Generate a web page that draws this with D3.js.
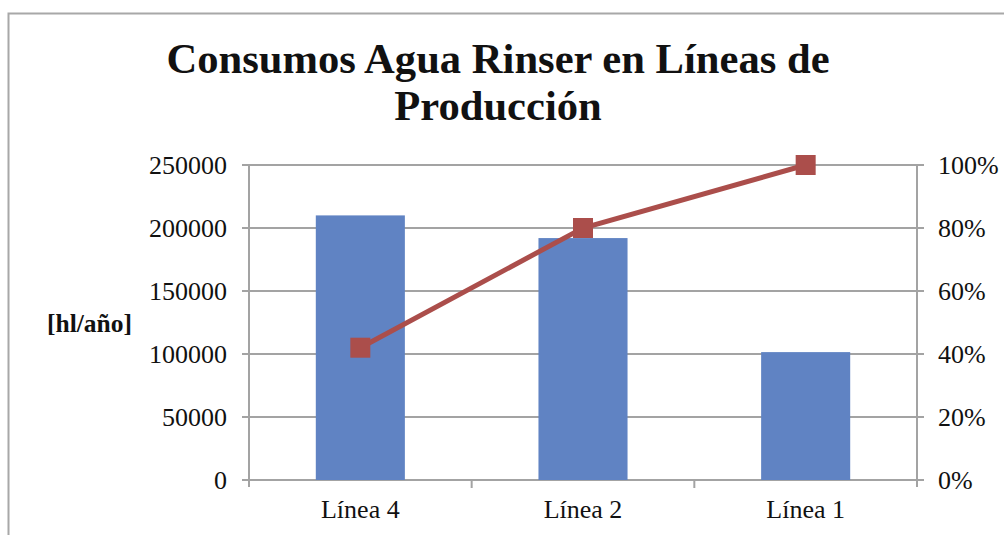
<!DOCTYPE html>
<html><head><meta charset="utf-8">
<script src="https://cdn.jsdelivr.net/npm/d3@7"></script>
<style>
body{margin:0;background:#fff;}
svg{display:block;}
text{font-family:"Liberation Serif","Times New Roman",serif;fill:#111;}
</style></head>
<body><svg id="c" width="1004" height="535"></svg>
<script>
const categories = ["Línea 4", "Línea 2", "Línea 1"];
const consumo = [210000, 192000, 101500];
const acumulado = [0.42, 0.80, 1.00];
const leftTicks = [0, 50000, 100000, 150000, 200000, 250000];
const rightTicks = [0, 0.2, 0.4, 0.6, 0.8, 1.0];
const titleLines = ["Consumos Agua Rinser en Líneas de", "Producción"];
const yAxisTitle = "[hl/año]";

const svg = d3.select("#c");
const L = 249, R = 917, T = 165, B = 480;
const grid = "#a3a3a3";

// outer border
svg.append("path").attr("d", "M8.5,540 V13.5 H1010").attr("fill", "none").attr("stroke", "#a8a8a8").attr("stroke-width", 2);

const x = d3.scaleBand().domain(categories).range([L, R]).paddingInner(0.6).paddingOuter(0.3);
const yL = d3.scaleLinear().domain([0, 250000]).range([B, T]);
const yR = d3.scaleLinear().domain([0, 1]).range([B, T]);

// gridlines
svg.append("g").selectAll("line").data(leftTicks).join("line")
  .attr("x1", L - 7).attr("x2", R + 7)
  .attr("y1", d => yL(d)).attr("y2", d => yL(d))
  .attr("stroke", grid).attr("stroke-width", 2);

// vertical axes
[L, R].forEach(xx => svg.append("line").attr("x1", xx).attr("x2", xx).attr("y1", T).attr("y2", B + 7)
  .attr("stroke", grid).attr("stroke-width", 2));
// category ticks
d3.range(1, categories.length).forEach(i => svg.append("line")
  .attr("x1", L + i * (R - L) / categories.length).attr("x2", L + i * (R - L) / categories.length)
  .attr("y1", B).attr("y2", B + 8).attr("stroke", grid).attr("stroke-width", 2));

// bars
svg.append("g").selectAll("rect").data(categories).join("rect")
  .attr("x", d => x(d)).attr("width", x.bandwidth())
  .attr("y", (d, i) => yL(consumo[i])).attr("height", (d, i) => B - yL(consumo[i]))
  .attr("fill", "#6083c3");

// line
const cx = d => x(d) + x.bandwidth() / 2;
const line = d3.line().x((d, i) => cx(categories[i])).y(d => yR(d));
svg.append("path").datum(acumulado).attr("d", line).attr("fill", "none")
  .attr("stroke", "#ab4e4b").attr("stroke-width", 5);
svg.append("g").selectAll("rect").data(acumulado).join("rect")
  .attr("x", (d, i) => cx(categories[i]) - 10).attr("y", d => yR(d) - 10)
  .attr("width", 20).attr("height", 20).attr("fill", "#ab4e4b");

// left labels
svg.append("g").selectAll("text").data(leftTicks).join("text")
  .attr("x", 227).attr("y", d => yL(d)).attr("dy", "0.34em")
  .attr("text-anchor", "end").attr("font-size", 26).text(d => d);
// right labels
svg.append("g").selectAll("text").data(rightTicks).join("text")
  .attr("x", 938).attr("y", d => yR(d)).attr("dy", "0.34em")
  .attr("text-anchor", "start").attr("font-size", 26).text(d => Math.round(d * 100) + "%");
// category labels
svg.append("g").selectAll("text").data(categories).join("text")
  .attr("x", d => cx(d)).attr("y", 518)
  .attr("text-anchor", "middle").attr("font-size", 26).text(d => d);

// y title
svg.append("text").attr("x", 47).attr("y", 332).attr("font-size", 25.5).attr("font-weight", "bold").text(yAxisTitle);

// title
svg.append("g").selectAll("text").data(titleLines).join("text")
  .attr("x", 498).attr("y", (d, i) => 73 + i * 47)
  .attr("text-anchor", "middle").attr("font-size", 42.6).attr("font-weight", "bold").text(d => d);
</script></body></html>
